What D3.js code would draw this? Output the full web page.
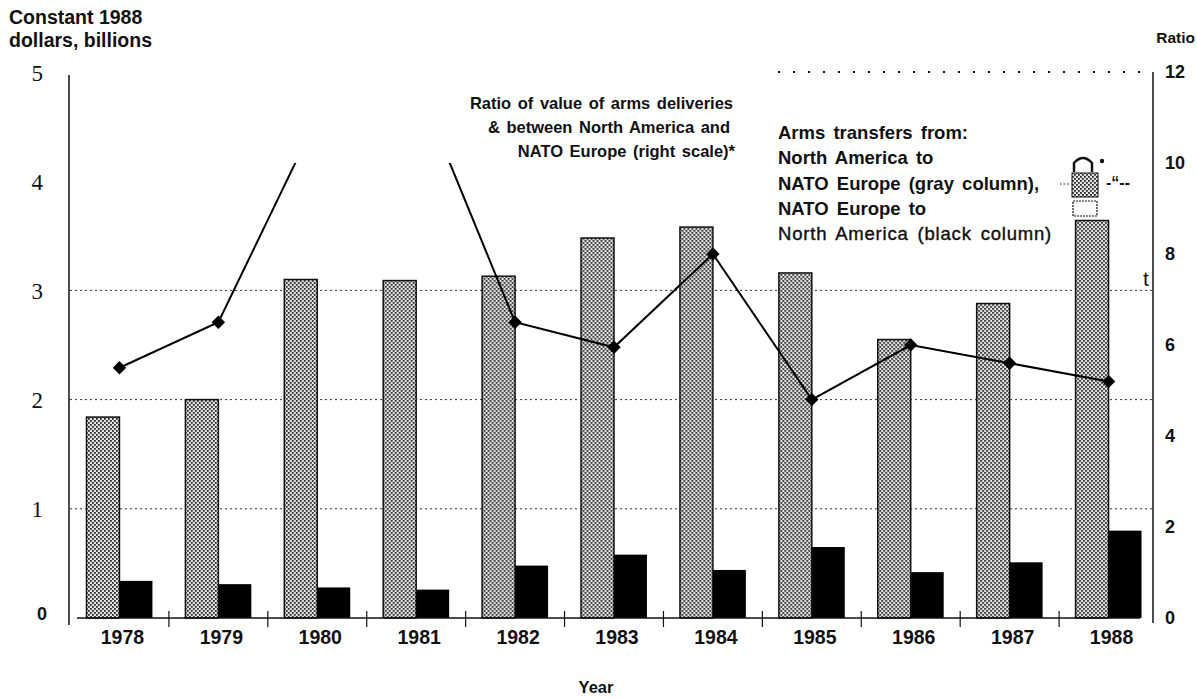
<!DOCTYPE html>
<html>
<head>
<meta charset="utf-8">
<script src="https://cdn.jsdelivr.net/npm/d3@7"></script>
<style>
  body { margin: 0; background: #fff; }
  svg { display: block; }
  text { font-family: "Liberation Sans", Arial, sans-serif; fill: #111; }
  .bold { font-weight: bold; }
</style>
</head>
<body>
<svg width="1197" height="699"></svg>
<script>
// data
var years = ["1978","1979","1980","1981","1982","1983","1984","1985","1986","1987","1988"];
var naToEurope = [1.84, 2.0, 3.10, 3.09, 3.13, 3.48, 3.58, 3.16, 2.55, 2.88, 3.64];   // gray columns
var europeToNa = [0.34, 0.31, 0.28, 0.26, 0.48, 0.58, 0.44, 0.65, 0.42, 0.51, 0.80];  // black columns
var ratio = [5.5, 6.5, 11.0, 11.8, 6.5, 5.95, 8.0, 4.8, 6.0, 5.6, 5.2];               // right scale
var leftTicks = [0, 1, 2, 3, 4, 5];
var rightTicks = [0, 2, 4, 6, 8, 10, 12];
var gridTicks = [1, 2, 3];

var svg = d3.select("svg");

var x = d3.scaleBand().domain(years).range([70, 1158]);
var xSub = d3.scaleBand().domain(["gray", "black"]).range([0, x.bandwidth()])
    .paddingInner(0).paddingOuter(0.5);
var yL = d3.scaleLinear().domain([0, 5]).range([618, 72]);
var yR = d3.scaleLinear().domain([0, 12]).range([618, 72]);

// dotted gray fill for the columns
var defs = svg.append("defs");
var pat = defs.append("pattern")
    .attr("id", "dots").attr("patternUnits", "userSpaceOnUse")
    .attr("width", 4).attr("height", 4);
pat.append("rect").attr("width", 4).attr("height", 4).attr("fill", "#e4e4e4");
pat.append("rect").attr("x", 0).attr("y", 0).attr("width", 1.8).attr("height", 1.8).attr("fill", "#2a2a2a");
pat.append("rect").attr("x", 2).attr("y", 2).attr("width", 1.8).attr("height", 1.8).attr("fill", "#2a2a2a");

defs.append("clipPath").attr("id", "lineclip")
  .append("rect").attr("x", 0).attr("y", yR(10)).attr("width", 1197).attr("height", 699);

// grid lines
svg.append("g").selectAll("line")
    .data(gridTicks)
    .enter().append("line")
      .attr("x1", 70).attr("x2", 1152)
      .attr("y1", function(d) { return yL(d); })
      .attr("y2", function(d) { return yL(d); })
      .attr("stroke", "#333").attr("stroke-width", 1)
      .attr("stroke-dasharray", "2,3");

// top dotted line (12 on the right scale)
svg.append("line")
    .attr("x1", 778).attr("x2", 1140)
    .attr("y1", yR(12)).attr("y2", yR(12))
    .attr("stroke", "#111").attr("stroke-width", 2)
    .attr("stroke-dasharray", "2,13");

// columns
var groups = svg.append("g").selectAll("g")
    .data(years)
    .enter().append("g")
      .attr("transform", function(d) { return "translate(" + x(d) + ",0)"; });

groups.append("rect")
    .attr("x", xSub("gray"))
    .attr("width", xSub.bandwidth())
    .attr("y", function(d, i) { return yL(naToEurope[i]); })
    .attr("height", function(d, i) { return yL(0) - yL(naToEurope[i]); })
    .attr("fill", "url(#dots)").attr("stroke", "#111").attr("stroke-width", 1.5);

groups.append("rect")
    .attr("x", xSub("black"))
    .attr("width", xSub.bandwidth())
    .attr("y", function(d, i) { return yL(europeToNa[i]); })
    .attr("height", function(d, i) { return yL(0) - yL(europeToNa[i]); })
    .attr("fill", "#000");

// axes lines
svg.append("line").attr("x1", 69).attr("x2", 69).attr("y1", 75).attr("y2", 625)
    .attr("stroke", "#111").attr("stroke-width", 1.5);
svg.append("line").attr("x1", 1153).attr("x2", 1153).attr("y1", 72).attr("y2", 623)
    .attr("stroke", "#111").attr("stroke-width", 1.5);
svg.append("line").attr("x1", 77).attr("x2", 1140).attr("y1", yL(0)).attr("y2", yL(0))
    .attr("stroke", "#111").attr("stroke-width", 1.5);

// ticks between years
svg.append("g").selectAll("line")
    .data(years.slice(1))
    .enter().append("line")
      .attr("x1", function(d) { return x(d); })
      .attr("x2", function(d) { return x(d); })
      .attr("y1", 611).attr("y2", 627)
      .attr("stroke", "#111").attr("stroke-width", 1.2);

// ratio line
var cx = function(i) { return x(years[i]) + x.bandwidth() / 2; };
var line = d3.line()
    .x(function(d, i) { return cx(i); })
    .y(function(d) { return yR(d); });

svg.append("path")
    .datum(ratio)
    .attr("d", line)
    .attr("clip-path", "url(#lineclip)")
    .attr("fill", "none").attr("stroke", "#000").attr("stroke-width", 2);

var pts = ratio.map(function(d, i) { return {v: d, i: i}; })
    .filter(function(p) { return p.v < 10; });
svg.append("g").selectAll("path")
    .data(pts)
    .enter().append("path")
      .attr("d", d3.symbol().type(d3.symbolSquare).size(90))
      .attr("transform", function(p) { return "translate(" + cx(p.i) + "," + yR(p.v) + ") rotate(45)"; })
      .attr("fill", "#000");

// left axis labels
var gl = svg.append("g").attr("transform", "translate(69,0)")
    .call(d3.axisLeft(yL).tickValues(leftTicks).tickSize(0).tickPadding(26).tickFormat(d3.format("d")));
gl.select(".domain").remove();
gl.selectAll("text")
    .style("font-family", function(d) { return d === 0 ? "Liberation Sans, Arial, sans-serif" : "Liberation Serif, Times New Roman, serif"; })
    .style("font-weight", function(d) { return d === 0 ? "bold" : "normal"; })
    .style("font-size", function(d) { return d === 0 ? "18px" : "23px"; })
    .attr("dx", function(d) { return d === 0 ? 4 : 0; })
    .attr("dy", function(d) { return d === 0 ? "0.1em" : "0.35em"; })
    .attr("fill", "#111");

// right axis labels
var gr = svg.append("g").attr("transform", "translate(1153,0)")
    .call(d3.axisRight(yR).tickValues(rightTicks).tickSize(0).tickPadding(12));
gr.select(".domain").remove();
gr.selectAll("text").attr("class", "bold").style("font-size", "18px")
    .style("font-family", "Liberation Sans, Arial, sans-serif").attr("fill", "#111");

// year labels
var gx = svg.append("g").attr("transform", "translate(3," + yL(0) + ")")
    .call(d3.axisBottom(x).tickSize(0).tickPadding(12));
gx.select(".domain").remove();
gx.selectAll("text").attr("class", "bold").style("font-size", "19.5px")
    .style("font-family", "Liberation Sans, Arial, sans-serif").attr("fill", "#111");

// titles
svg.append("text").attr("class", "bold").attr("x", 9).attr("y", 24).style("font-size", "19.5px").text("Constant 1988");
svg.append("text").attr("class", "bold").attr("x", 9).attr("y", 47).style("font-size", "19.5px").text("dollars, billions");
svg.append("text").attr("class", "bold").attr("x", 1195).attr("y", 43).attr("text-anchor", "end").style("font-size", "15.5px").text("Ratio");
svg.append("text").attr("class", "bold").attr("x", 596).attr("y", 693).attr("text-anchor", "middle").style("font-size", "16.5px").text("Year");

// annotation for the line
var note = ["Ratio of value of arms deliveries", "& between North America and", "NATO Europe (right scale)*"];
var noteX = [733, 730, 735];
svg.append("g").selectAll("text")
    .data(note)
    .enter().append("text")
      .attr("class", "bold")
      .attr("x", function(d, i) { return noteX[i]; })
      .attr("y", function(d, i) { return 109 + i * 24; })
      .attr("text-anchor", "end")
      .style("font-size", "16.5px").style("word-spacing", "2px")
      .text(function(d) { return d; });

// legend text
var legend = ["Arms transfers from:", "North America to", "NATO Europe (gray column),", "NATO Europe to", "North America (black column)"];
svg.append("g").selectAll("text")
    .data(legend)
    .enter().append("text")
      .attr("class", function(d, i) { return i < 4 ? "bold" : null; })
      .attr("x", 778)
      .attr("y", function(d, i) { return 139 + i * 25.3; })
      .style("font-size", "18.5px")
      .style("word-spacing", "3px")
      .style("letter-spacing", function(d, i) { return i < 4 ? "0px" : "0.8px"; })
      .style("stroke", function(d, i) { return i < 4 ? "none" : "#111"; })
      .style("stroke-width", 0.4)
      .text(function(d) { return d; });

// legend swatches over the 1988 column
svg.append("rect").attr("x", 1072).attr("y", 173).attr("width", 26).attr("height", 24)
    .attr("fill", "url(#dots)").attr("stroke", "#111").attr("stroke-width", 1);
svg.append("rect").attr("x", 1073).attr("y", 201).attr("width", 24).attr("height", 15)
    .attr("fill", "#fff").attr("stroke", "#111").attr("stroke-width", 1.2).attr("stroke-dasharray", "2,1");
svg.append("path").attr("d", "M1074,172 L1074,163 Q1083,153 1092,163 L1092,172")
    .attr("fill", "none").attr("stroke", "#111").attr("stroke-width", 2.5);
svg.append("circle").attr("cx", 1102).attr("cy", 161).attr("r", 2.2).attr("fill", "#111");
svg.append("line").attr("x1", 1060).attr("x2", 1070).attr("y1", 184).attr("y2", 184)
    .attr("stroke", "#111").attr("stroke-dasharray", "1.5,2");
svg.append("text").attr("class", "bold").attr("x", 1106).attr("y", 188).style("font-size", "16px").text("-\u201C--");
svg.append("text").attr("x", 1143).attr("y", 286).style("font-size", "21px").text("t");
</script>
</body>
</html>
